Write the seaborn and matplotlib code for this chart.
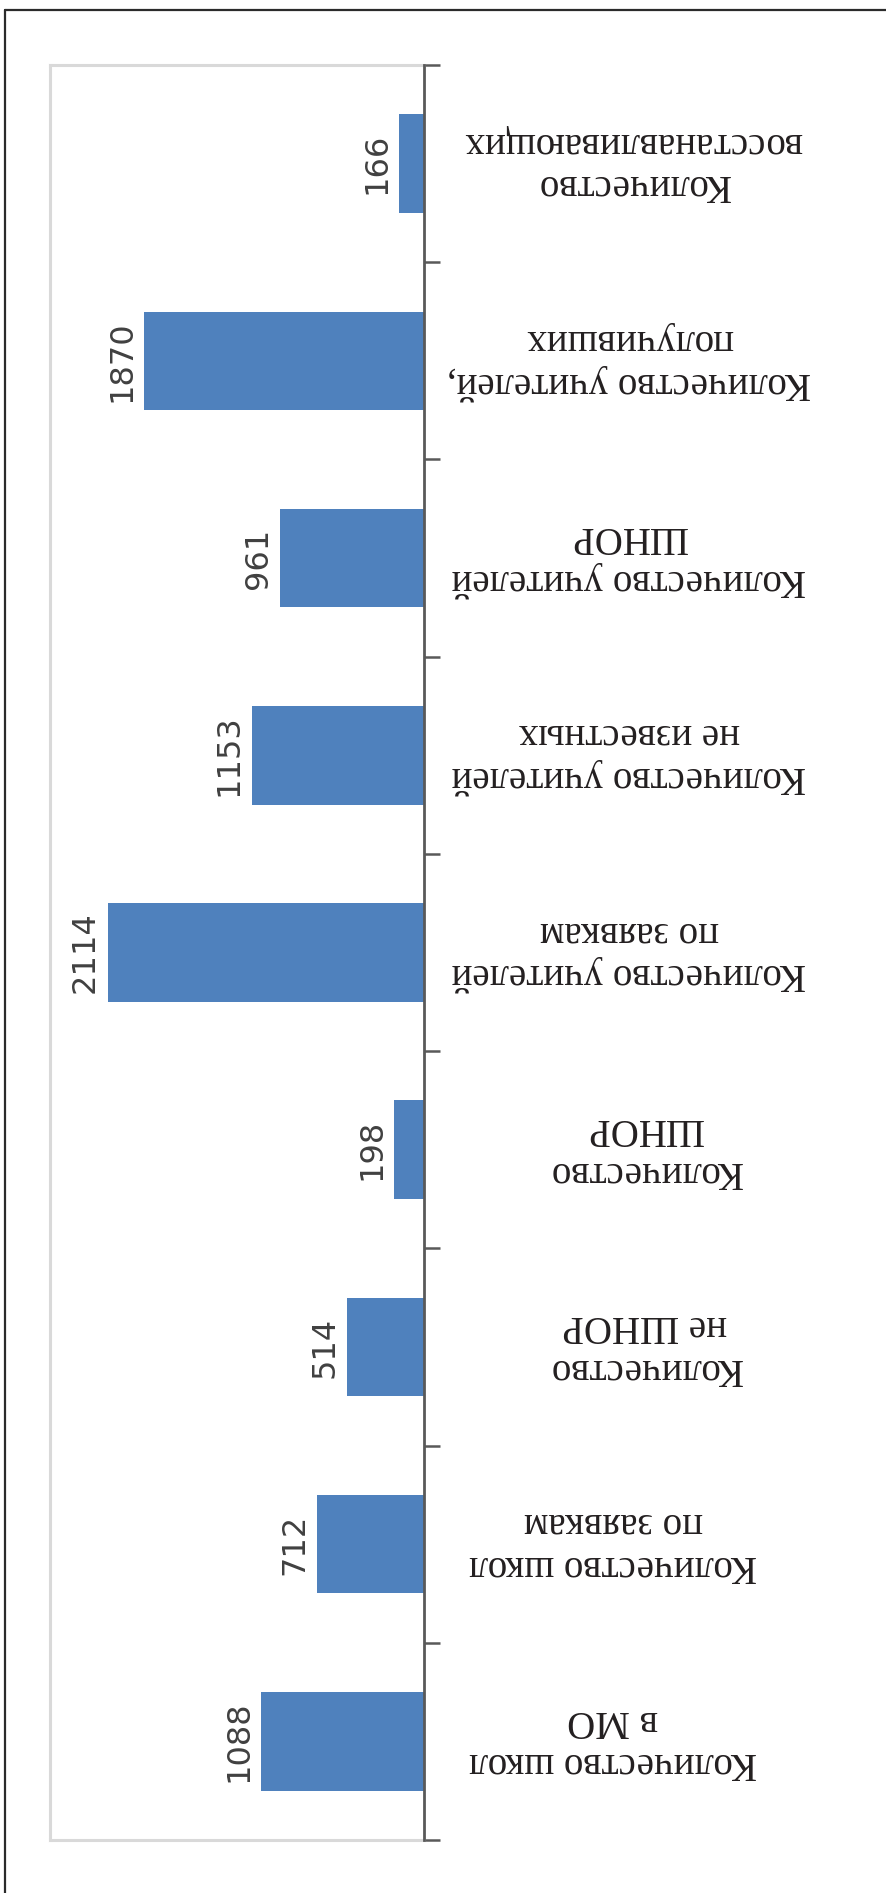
import numpy as np
import pandas as pd
import matplotlib
matplotlib.use("Agg")
import matplotlib.pyplot as plt
from matplotlib.lines import Line2D
import seaborn as sns

# ---- data (bottom to top as shown) ----
categories = [
    "Количество школ\nв МО",
    "Количество школ\nпо заявкам",
    "Количество\nне ШНОР",
    "Количество\nШНОР",
    "Количество учителей\nпо заявкам",
    "Количество учителей\nне известных",
    "Количество учителей\nШНОР",
    "Количество учителей,\nполучивших",
    "Количество\nвосстанавливающих",
]
values = [1088, 712, 514, 198, 2114, 1153, 961, 1870, 166]

# small horizontal nudges (px) for the category label blocks
label_nudge_px = [-12, -12, 20, 20, 4, 4, 4, 4, 8]

df = pd.DataFrame({"cat": categories, "val": values})

sns.set_theme(style="white")
plt.rcParams["font.family"] = ["DejaVu Sans"]

W, H = 886, 1893
fig = plt.figure(figsize=(W / 100, H / 100), dpi=100)
fig.patch.set_facecolor("white")

ax_left, ax_right, ax_top, ax_bot = 50, 424, 65, 1840
ax = fig.add_axes([ax_left / W, (H - ax_bot) / H,
                   (ax_right - ax_left) / W, (ax_bot - ax_top) / H])

sns.barplot(data=df, x="val", y="cat", orient="h", order=categories,
            color="#4F81BD", saturation=1, width=0.5, edgecolor="none",
            linewidth=0, ax=ax)

ax.set_xlim(2500, 0)
ax.set_ylim(-0.5, len(categories) - 0.5)
ax.set_xlabel("")
ax.set_ylabel("")
ax.set_xticks([])
ax.yaxis.tick_right()
ax.set_yticks(np.arange(-0.5, len(categories), 1.0))
ax.set_yticklabels([])
ax.tick_params(axis="y", which="major", direction="out", length=11.5,
               width=1.8, color="#595959", right=True, left=False)
ax.grid(False)

for side in ["left", "top", "bottom"]:
    ax.spines[side].set_color("#d9d9d9")
    ax.spines[side].set_linewidth(2.2)
ax.spines["right"].set_color("#595959")
ax.spines["right"].set_linewidth(2.0)
ax.spines["right"].set_zorder(5)

# value labels (rotated 90)
for i, v in enumerate(values):
    ax.annotate(str(v), xy=(v, i), xytext=(-16, 0), textcoords="offset points",
                rotation=90, ha="center", va="center", fontsize=23,
                color="#404040", family=["DejaVu Sans"])

# category labels (upside down)
for i, c in enumerate(categories):
    lx = (625 + label_nudge_px[i] - ax_left) / (ax_right - ax_left)
    ax.text(lx, i, c, transform=ax.get_yaxis_transform(),
            rotation=180, ha="center", va="center", multialignment="center",
            fontsize=28, linespacing=1.2, color="#231f20",
            family=["Liberation Serif", "DejaVu Serif"])

# outer frame (top and left lines)
fig.add_artist(Line2D([5 / W, 5 / W], [0, (H - 10) / H], transform=fig.transFigure,
                      color="#2b2b2b", lw=1.6))
fig.add_artist(Line2D([5 / W, 1], [(H - 10) / H, (H - 10) / H], transform=fig.transFigure,
                      color="#2b2b2b", lw=1.6))

fig.savefig("out.png", dpi=100, facecolor="white")
